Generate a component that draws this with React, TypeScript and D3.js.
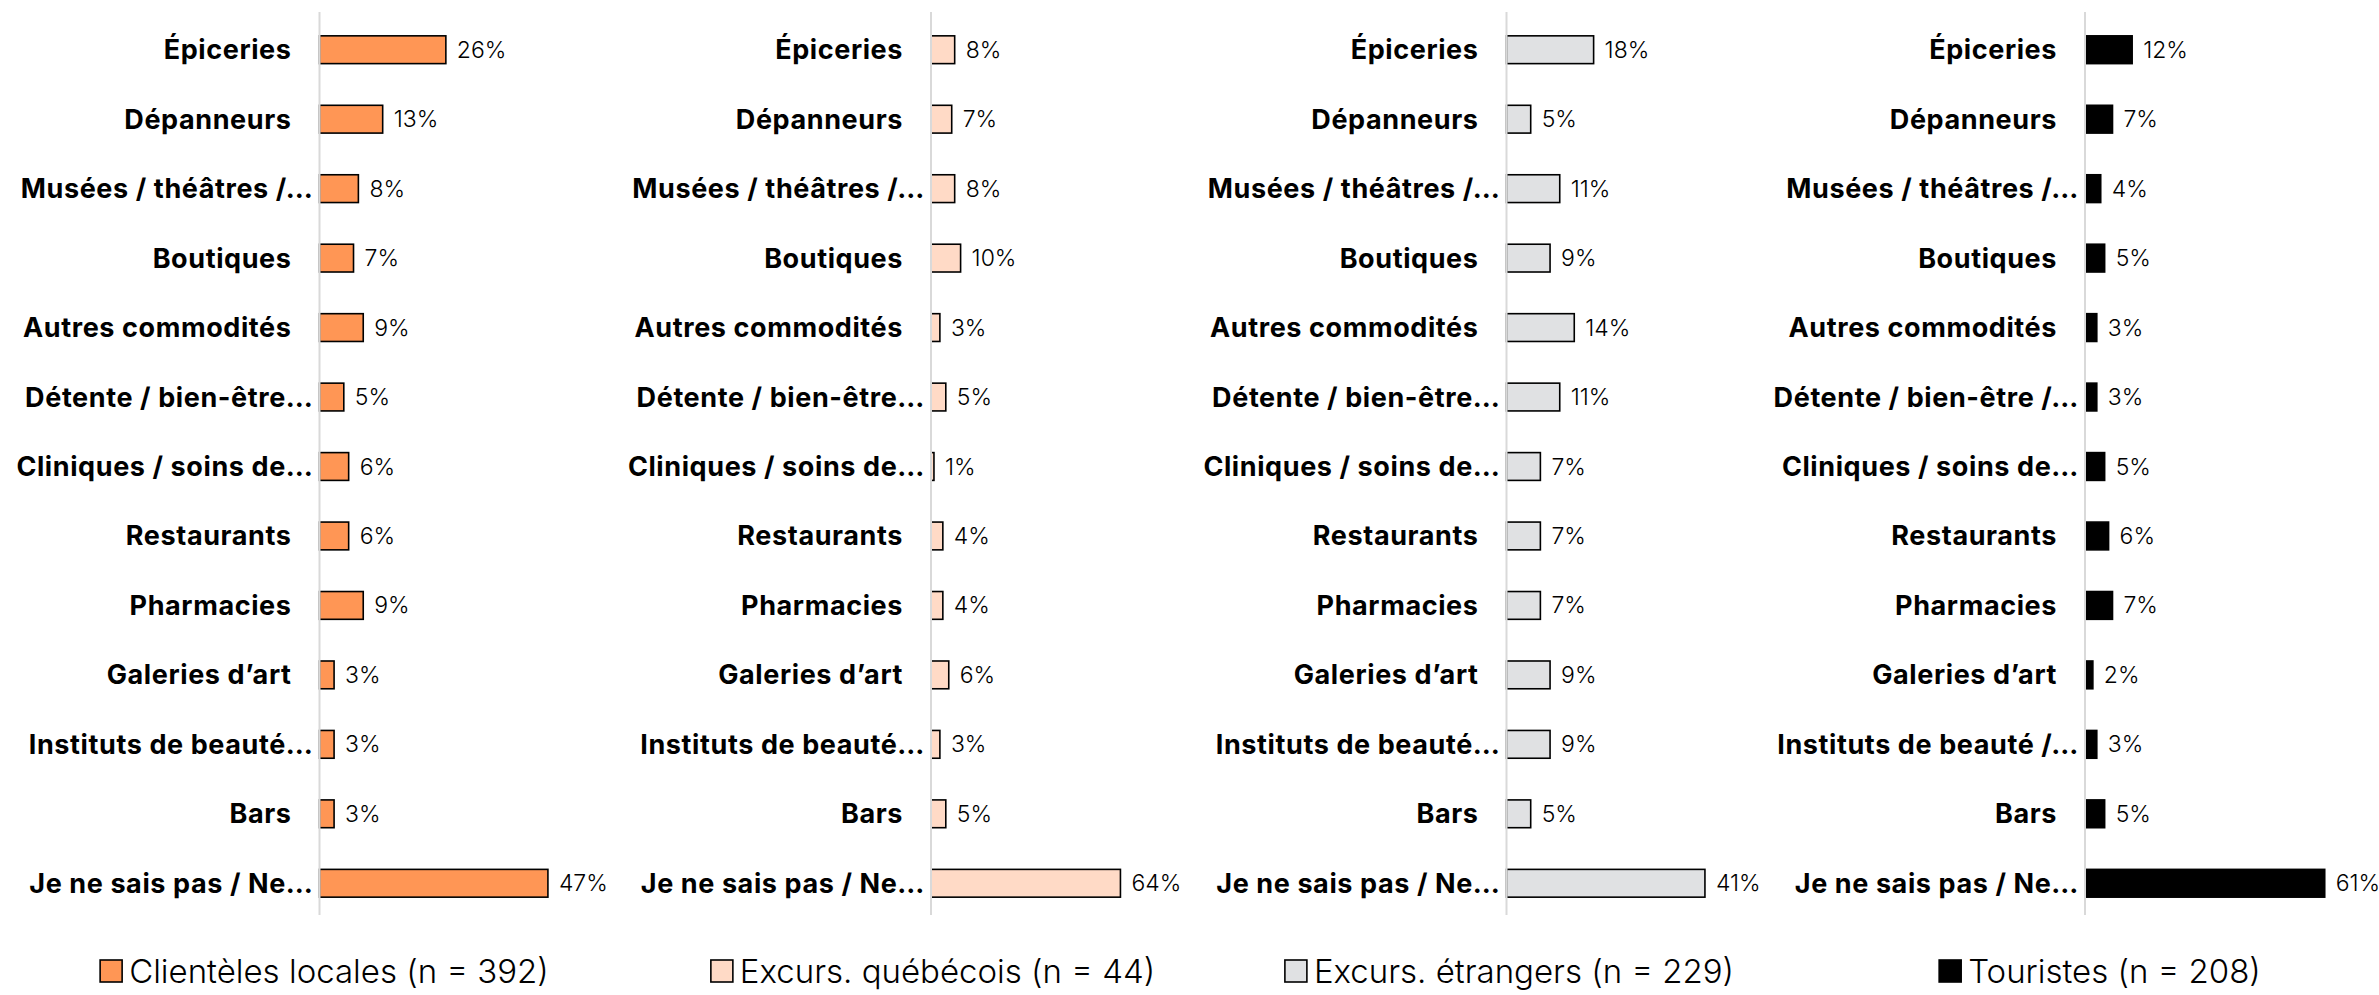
import * as d3 from "d3";
import React, { useEffect, useRef } from "react";

// Category labels as they appear in each panel (Excel truncates long ones)
const labelsA = [
  "Épiceries", "Dépanneurs", "Musées / théâtres /…", "Boutiques", "Autres commodités",
  "Détente / bien-être…", "Cliniques / soins de…", "Restaurants", "Pharmacies",
  "Galeries d’art", "Instituts de beauté…", "Bars", "Je ne sais pas / Ne…",
];
const labelsB = [
  "Épiceries", "Dépanneurs", "Musées / théâtres /…", "Boutiques", "Autres commodités",
  "Détente / bien-être /…", "Cliniques / soins de…", "Restaurants", "Pharmacies",
  "Galeries d’art", "Instituts de beauté /…", "Bars", "Je ne sais pas / Ne…",
];

// Values in %
const localValues = [26, 13, 8, 7, 9, 5, 6, 6, 9, 3, 3, 3, 47];
const quebecValues = [8, 7, 8, 10, 3, 5, 1, 4, 4, 6, 3, 5, 64];
const foreignValues = [18, 5, 11, 9, 14, 11, 7, 7, 7, 9, 9, 5, 41];
const touristValues = [12, 7, 4, 5, 3, 3, 5, 6, 7, 2, 3, 5, 61];

const seriesNames = [
  "Clientèles locales (n = 392)",
  "Excurs. québécois (n = 44)",
  "Excurs. étrangers (n = 229)",
  "Touristes (n = 208)",
];
const seriesColors = ["#FF9655", "#FFDAC6", "#E0E1E3", "#000000"];

const App: React.FC = () => {
  const ref = useRef<SVGSVGElement>(null);

  useEffect(() => {
    const width = 2379;
    const height = 995;
    const font = "Inter, 'Open Sans', sans-serif";

    // per-panel layout (each Excel chart has its own auto axis)
    const axisX = [319.5, 931, 1506.5, 2085];
    const pxPerPct = [4.86, 2.96, 4.84, 3.93];
    const legendShift = [5, 2, 3, 15];

    const panels = [
      { labels: labelsA, values: localValues },
      { labels: labelsA, values: quebecValues },
      { labels: labelsA, values: foreignValues },
      { labels: labelsB, values: touristValues },
    ];

    d3.select(ref.current).selectAll("*").remove();
    const svg = d3.select(ref.current)
      .attr("width", width)
      .attr("height", height)
      .style("font-family", font);

    const y = d3.scaleBand<number>()
      .domain(d3.range(labelsA.length))
      .range([15, 918])
      .paddingInner(0.6)
      .paddingOuter(0.3);

    panels.forEach((p, i) => {
      const x = d3.scaleLinear()
        .domain([0, 100])
        .range([axisX[i], axisX[i] + 100 * pxPerPct[i]]);

      const g = svg.append("g");

      // bars
      g.selectAll("rect.bar")
        .data(p.values)
        .enter()
        .append("rect")
        .attr("class", "bar")
        .attr("x", x(0))
        .attr("y", (_, j) => y(j)!)
        .attr("width", (d) => x(d) - x(0))
        .attr("height", y.bandwidth())
        .attr("fill", seriesColors[i])
        .attr("stroke", "#000")
        .attr("stroke-width", 1.6);

      // vertical axis line
      g.append("line")
        .attr("x1", x(0))
        .attr("x2", x(0))
        .attr("y1", 12)
        .attr("y2", 915)
        .attr("stroke", "#D9D9D9")
        .attr("stroke-width", 2);

      // category labels
      g.selectAll("text.cat")
        .data(p.labels)
        .enter()
        .append("text")
        .attr("class", "cat")
        .attr("x", (d) => x(0) - (d.endsWith("…") ? 6 : 28))
        .attr("y", (_, j) => y(j)! + y.bandwidth() / 2)
        .attr("dominant-baseline", "central")
        .attr("text-anchor", "end")
        .style("font-size", "27px")
        .style("font-weight", 700)
        .style("letter-spacing", "0.6px")
        .text((d) => d);

      // value labels
      g.selectAll("text.val")
        .data(p.values)
        .enter()
        .append("text")
        .attr("class", "val")
        .attr("x", (d) => x(d) + 11)
        .attr("y", (_, j) => y(j)! + y.bandwidth() / 2)
        .attr("dominant-baseline", "central")
        .style("font-size", "23px")
        .style("font-weight", 300)
        .text((d) => `${d}%`);

      // legend
      const lg = g.append("g");
      lg.append("rect")
        .attr("x", 0)
        .attr("y", -11)
        .attr("width", 22)
        .attr("height", 22)
        .attr("fill", seriesColors[i])
        .attr("stroke", "#000")
        .attr("stroke-width", 1.6);
      const lt = lg.append("text")
        .attr("x", 29)
        .attr("y", 0)
        .attr("dominant-baseline", "central")
        .style("font-size", "33px")
        .style("font-weight", 300)
        .text(seriesNames[i]);
      const tw = (lt.node() as SVGTextElement).getComputedTextLength();
      const total = 29 + tw;
      lg.attr("transform", `translate(${axisX[i] + legendShift[i] - total / 2},971)`);
    });
  }, []);

  return (
    <svg ref={ref} style={{ position: "absolute", left: 0, top: 0, background: "#fff" }}></svg>
  );
};

export default App;
